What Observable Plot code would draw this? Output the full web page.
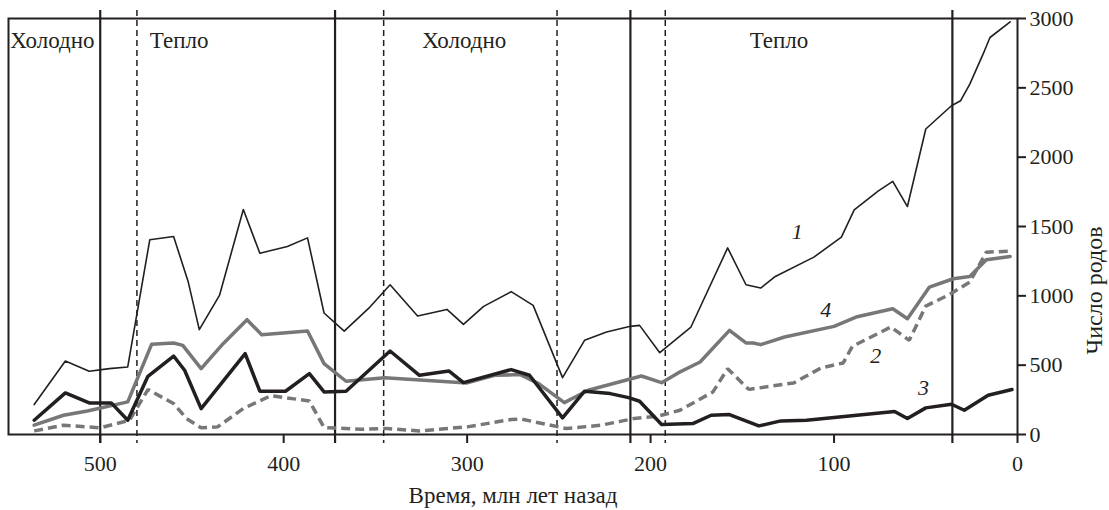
<!DOCTYPE html>
<html><head><meta charset="utf-8">
<script src="https://cdn.jsdelivr.net/npm/d3@7"></script>
<script src="https://cdn.jsdelivr.net/npm/@observablehq/plot@0.6"></script>
<style>
body{margin:0;background:#fff}
svg, svg text { font-family: "Liberation Serif", Tinos, "DejaVu Serif", serif !important; }
</style>
</head><body><div id="chart"></div>
<script>
// [age (Ma), number of genera]
const series1 = [[536,216],[519,530],[506,456],[495,475],[485,487],[473,1404],[460,1428],[452,1099],[446,756],[435,1003],[422,1622],[413,1307],[398,1356],[387,1418],[378,876],[367,746],[353,919],[342,1080],[327,854],[311,902],[302,794],[291,924],[276,1030],[264,931],[248,410],[236,679],[224,739],[211,780],[206,787],[195,590],[178,775],[158,1346],[148,1080],[140,1056],[132,1140],[111,1279],[96,1423],[89,1620],[76,1755],[68,1826],[60,1644],[50,2203],[36,2371],[31,2407],[26,2527],[18,2767],[15,2863],[4,2976]];
const series4 = [[536,67],[520,139],[507,170],[485,235],[472,650],[460,660],[455,643],[445,475],[433,655],[420,828],[412,720],[387,746],[378,511],[366,384],[345,410],[300,372],[285,427],[271,432],[261,367],[247,230],[234,319],[205,422],[194,374],[185,444],[173,523],[157,751],[148,660],[144,660],[140,648],[127,703],[100,780],[88,847],[68,907],[60,835],[48,1063],[35,1123],[26,1140],[17,1260],[4,1284]];
const series3 = [[536,103],[519,300],[506,228],[494,228],[485,103],[474,420],[460,566],[454,463],[445,187],[421,583],[413,312],[399,312],[386,439],[378,307],[366,312],[342,602],[326,427],[310,458],[302,374],[276,468],[266,427],[248,120],[236,312],[222,295],[212,266],[206,240],[194,72],[177,79],[167,139],[157,144],[141,62],[129,98],[115,103],[67,166],[60,115],[50,192],[36,218],[29,175],[16,283],[3,324]];
const series2 = [[536,26],[520,67],[500,48],[484,103],[474,324],[460,223],[453,115],[445,48],[436,55],[422,187],[407,280],[386,242],[378,50],[358,38],[344,43],[326,26],[300,55],[276,108],[270,110],[246,43],[227,67],[209,115],[196,132],[184,175],[166,307],[158,475],[147,331],[146,326],[122,372],[107,480],[95,516],[90,636],[69,775],[59,679],[50,926],[37,1010],[26,1099],[17,1315],[4,1322]];

const solidBounds = [500, 372, 211, 35.5];
const dashedBounds = [480, 345.5, 251, 192];
const periodLabels = ["Холодно", "Тепло", "Холодно", "Тепло"];
const periodLabelAges = [549, 473, 324.5, 146];
const seriesLabels = ["1", "4", "2", "3"];
const seriesLabelAges = [120, 104.5, 77.3, 51.3];
const seriesLabelCounts = [1459, 895, 566, 338];
const xTicks = [500, 400, 300, 200, 100, 0];
const yTicks = [0, 500, 1000, 1500, 2000, 2500, 3000];
const xLabel = "Время, млн лет назад";
const yLabel = "Число родов";

const ink = "#231f20";
const grey = "#777777";
const serif = "'Liberation Serif', Tinos, 'DejaVu Serif', serif";
const X = d => d[0], Y = d => d[1];

const chart = Plot.plot({
  width: 1109, height: 510,
  marginLeft: 8, marginRight: 92, marginTop: 18, marginBottom: 76,
  style: {fontFamily: serif, fontSize: "22px", background: "white", color: ink},
  x: {domain: [550, 0]},
  y: {domain: [0, 3000]},
  marks: [
    Plot.ruleX(dashedBounds, {stroke: ink, strokeWidth: 1.5, strokeDasharray: "6,4", insetTop: -8, insetBottom: -9}),
    Plot.ruleX(solidBounds, {stroke: ink, strokeWidth: 2.2, insetTop: -8, insetBottom: -9}),
    Plot.line(series2, {x: X, y: Y, stroke: grey, strokeWidth: 3.5, strokeDasharray: "9,5", strokeLinejoin: "miter", strokeLinecap: "butt"}),
    Plot.line(series4, {x: X, y: Y, stroke: grey, strokeWidth: 3.5}),
    Plot.line(series3, {x: X, y: Y, stroke: ink, strokeWidth: 3.5}),
    Plot.line(series1, {x: X, y: Y, stroke: ink, strokeWidth: 1.6}),
    Plot.frame({stroke: ink, strokeWidth: 2}),
    Plot.axisX({ticks: xTicks, tickFormat: d => String(d), tickSize: 9, tickPadding: 12, label: null, fontSize: 22, fontFamily: serif, strokeWidth: 2}),
    Plot.axisY({anchor: "right", ticks: yTicks, tickFormat: d => String(d), tickSize: 8, tickPadding: 4, label: null, fontSize: 22, fontFamily: serif, strokeWidth: 2}),
    Plot.text(periodLabels, {x: periodLabelAges, text: d => d, frameAnchor: "top", lineAnchor: "middle", dy: 22, textAnchor: "start", fontSize: 23, fontFamily: serif, fill: ink}),
    Plot.text(seriesLabels, {x: seriesLabelAges, y: seriesLabelCounts, text: d => d, fontSize: 22, fontStyle: "italic", fontFamily: serif, fill: ink}),
    Plot.text([yLabel], {frameAnchor: "right", lineAnchor: "middle", dx: 77, rotate: -90, fontSize: 24, fontFamily: serif, fill: ink}),
    Plot.text([xLabel], {frameAnchor: "bottom", lineAnchor: "middle", dy: 61, fontSize: 23, fontFamily: serif, fill: ink})
  ]
});
document.getElementById("chart").appendChild(chart);
</script>
</body></html>
